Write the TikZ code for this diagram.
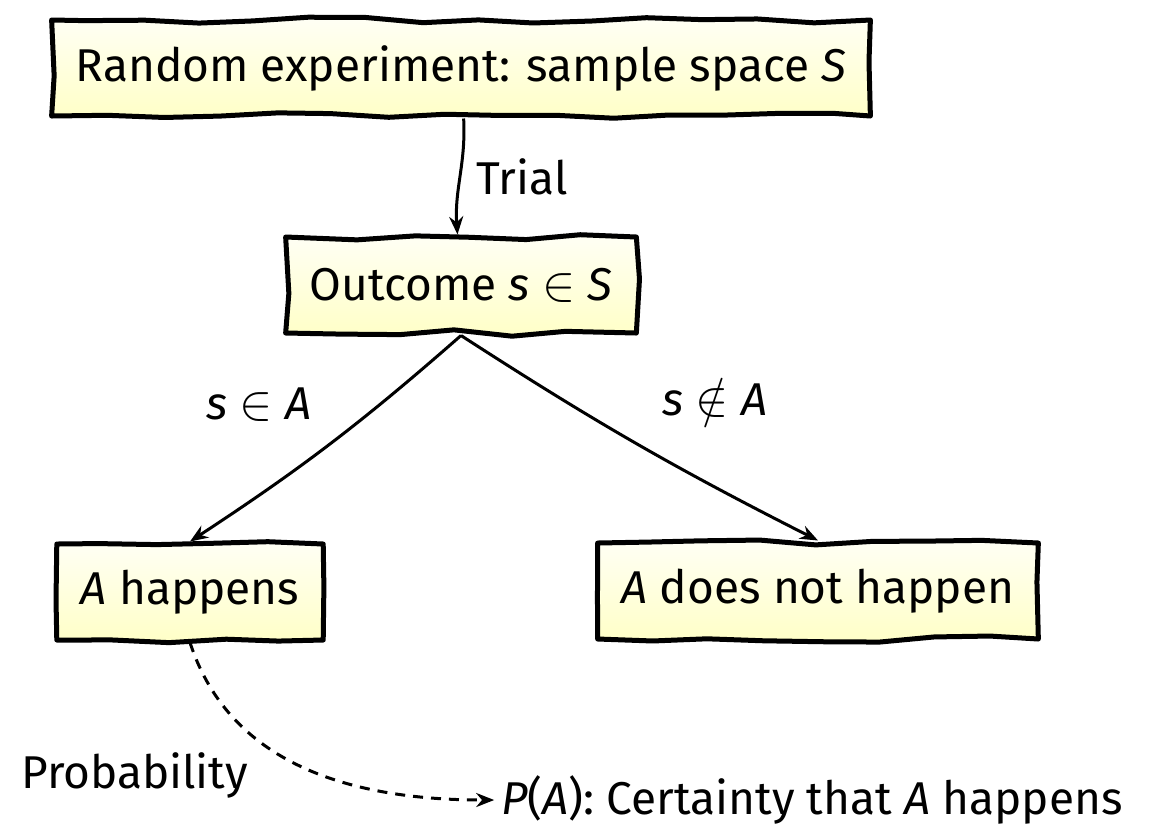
\documentclass[tikz,border=0pt]{standalone}
\usepackage{fontspec}
\setmainfont{Fira Sans}
\usetikzlibrary{decorations.pathmorphing,arrows.meta}

\newcommand{\mv}[1]{\textit{#1}}

\begin{document}
\begin{tikzpicture}[x=0.5pt,y=-0.5pt,font=\fontsize{23}{28}\selectfont]

\pgfmathsetseed{7}
\tikzstyle{sketchBox}=[draw,line width=2.5pt,line join=round,decorate,decoration={random steps,segment length=28pt,amplitude=1.6pt},top color=yellow!4,bottom color=yellow!22,inner xsep=12pt,minimum height=48pt]
\tikzstyle{link}=[line width=1.5pt,-{Stealth[length=9pt,width=7pt]}]

\useasboundingbox (0,0) rectangle (1154,832);

%Boxes
\node[sketchBox] (experiment) at (461,68) {Random experiment: sample space \mv{S}};
\node[sketchBox] (outcome) at (461,285) {Outcome \mv{s} $\in$ \mv{S}};
\node[sketchBox] (aHappens) at (190,592) {\mv{A} happens};
\node[sketchBox] (aNotHappens) at (818,591) {\mv{A} does not happen};

\node (certainty) at (812,800) {\mv{P}(\mv{A}): Certainty that \mv{A} happens};

%Connections
\draw[link] (experiment) to[out=-87,in=94] node[right=4pt] {Trial} (outcome);
\draw[link] (outcome.south) to[bend left=4] node[pos=0.3,left=30pt] {\mv{s} $\in$ \mv{A}} (aHappens.north);
\draw[link] (outcome.south) to[bend right=3] node[pos=0.5,above right=9pt] {\mv{s} $\notin$ \mv{A}} (aNotHappens.north);

\draw[link,dashed,dash pattern=on 5pt off 4pt] (aHappens.south) to[out=-72,in=180] node[pos=0.55,left=34pt] {Probability} (certainty.west);

\end{tikzpicture}
\end{document}
